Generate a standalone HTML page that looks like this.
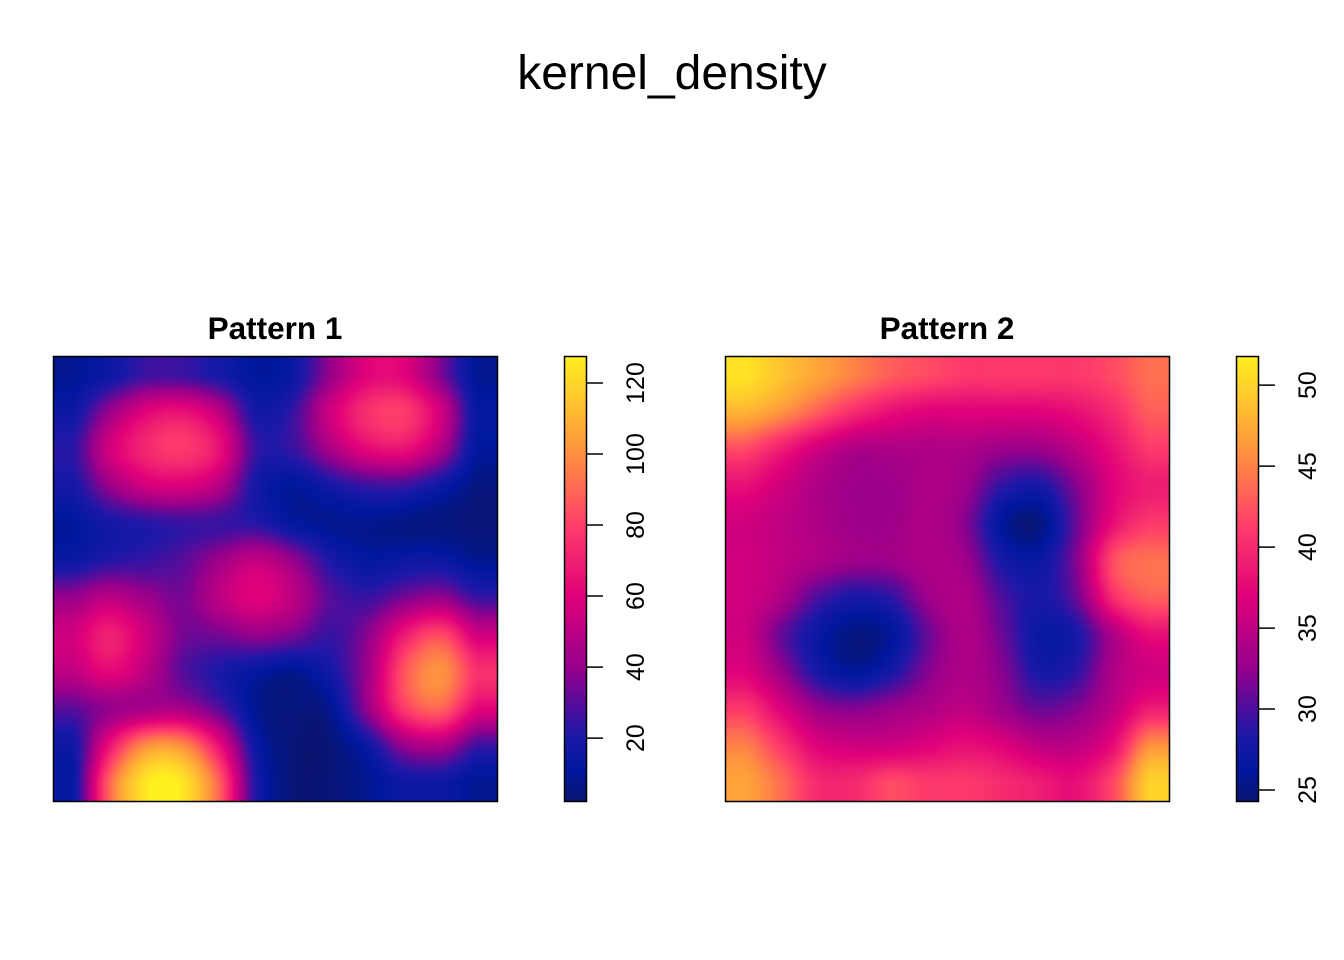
<!DOCTYPE html>
<html><head><meta charset="utf-8"><style>
body{margin:0;background:#fff;width:1344px;height:960px;overflow:hidden;position:relative;font-family:"Liberation Sans",sans-serif}
.abs{position:absolute}
canvas{position:absolute}
</style></head><body>
<div class="abs" style="left:0;width:1344px;top:46px;text-align:center;font-size:48px;">kernel_density</div>
<div class="abs" style="left:53px;width:444px;top:310px;text-align:center;font-size:31.5px;font-weight:bold">Pattern 1</div>
<div class="abs" style="left:725px;width:444px;top:310px;text-align:center;font-size:31.5px;font-weight:bold">Pattern 2</div>
<canvas id="c1" width="444" height="446" style="left:53px;top:356px"></canvas>
<canvas id="c2" width="444" height="446" style="left:725px;top:356px"></canvas>
<canvas id="b1" width="22" height="446" style="left:564px;top:356px"></canvas>
<canvas id="b2" width="22" height="446" style="left:1236px;top:356px"></canvas>
<svg id="ov" width="1344" height="960" style="position:absolute;left:0;top:0"></svg>
<script>
const grid1=[
[8,15,25,25,18,10,15,40,60,60,35,8],
[15,40,60,65,50,18,25,55,75,78,55,12],
[22,55,72,78,65,25,25,45,62,65,45,10],
[18,40,55,58,48,18,10,18,25,25,15,5],
[10,18,22,25,25,22,12,8,8,6,5,4],
[15,22,25,30,42,52,40,20,12,15,15,8],
[40,50,42,35,50,60,50,30,25,35,40,25],
[55,70,55,35,35,40,35,25,38,68,82,55],
[50,62,50,30,20,12,8,18,42,85,100,75],
[30,40,45,45,30,8,5,8,40,78,88,60],
[15,65,100,100,65,15,4,4,15,40,45,25],
[12,88,125,125,88,20,4,4,8,15,15,8]];
const grid2=[
[51,49,47,45,43,42,41,41,41,41,42,44],
[48,46,43,40,38,37,37,37,37,38,40,43],
[42,39,36,34,34,34,34,33,33,35,38,41],
[38,36,34,33,33,34,33,29,28,32,37,39],
[36,35,34,33,33,34,32,26,25,31,38,41],
[36,35,34,33,33,34,33,28,27,32,42,44],
[36,34,30,28,29,33,34,30,28,31,40,43],
[36,31,27,25,26,31,34,31,27,28,34,38],
[37,33,28,26,28,32,34,32,28,29,34,36],
[41,37,33,32,33,34,35,33,31,32,35,39],
[45,41,37,36,36,37,38,37,35,35,38,46],
[47,44,40,40,42,41,41,40,39,38,42,50]];
const range1=[2,127.6], range2=[24.26,51.8];
const ticks1=[20,40,60,80,100,120], ticks2=[25,30,35,40,45,50];
const stops=[[0,[10,20,110]],[0.07,[0,24,160]],[0.15,[30,24,168]],[0.3,[150,0,140]],[0.46,[224,0,122]],[0.62,[255,62,106]],[0.78,[255,145,64]],[1,[255,240,32]]];
function cmap(t){t=Math.max(0,Math.min(1,t));for(let i=1;i<stops.length;i++){if(t<=stops[i][0]){const a=stops[i-1],b=stops[i];const f=(t-a[0])/(b[0]-a[0]);return a[1].map((v,k)=>v+(b[1][k]-v)*f);}}return stops[stops.length-1][1];}
function cr(p0,p1,p2,p3,t){return 0.5*(2*p1+(-p0+p2)*t+(2*p0-5*p1+4*p2-p3)*t*t+(-p0+3*p1-3*p2+p3)*t*t*t);}
function sample(g,u,v){const n=g.length,m=g[0].length;let x=u*m-0.5,y=v*n-0.5;x=Math.max(0,Math.min(m-1,x));y=Math.max(0,Math.min(n-1,y));
const x0=Math.min(m-2,Math.floor(x)),y0=Math.min(n-2,Math.floor(y));const fx=x-x0,fy=y-y0;
const cx=i=>Math.max(0,Math.min(m-1,i)),cy=i=>Math.max(0,Math.min(n-1,i));
const rows=[];for(let j=-1;j<=2;j++){const r=g[cy(y0+j)];rows.push(cr(r[cx(x0-1)],r[x0],r[x0+1],r[cx(x0+2)],fx));}
return cr(rows[0],rows[1],rows[2],rows[3],fy);}
function draw(id,g,r){const c=document.getElementById(id),ctx=c.getContext('2d');const W=c.width,H=c.height;const im=ctx.createImageData(W,H);
for(let y=0;y<H;y++)for(let x=0;x<W;x++){const v=sample(g,(x+0.5)/W,(y+0.5)/H);const col=cmap((v-r[0])/(r[1]-r[0]));const o=(y*W+x)*4;im.data[o]=col[0];im.data[o+1]=col[1];im.data[o+2]=col[2];im.data[o+3]=255;}
ctx.putImageData(im,0,0);}
function bar(id){const c=document.getElementById(id),ctx=c.getContext('2d');for(let y=0;y<c.height;y++){const col=cmap(1-(y+0.5)/c.height);ctx.fillStyle=`rgb(${col.map(Math.round).join(',')})`;ctx.fillRect(0,y,c.width,1);}}
draw('c1',grid1,range1);draw('c2',grid2,range2);bar('b1');bar('b2');
const svg=document.getElementById('ov');const NS='http://www.w3.org/2000/svg';
function el(t,a){const e=document.createElementNS(NS,t);for(const k in a)e.setAttribute(k,a[k]);svg.appendChild(e);return e;}
function frame(x,name){const e=el('rect',{x:x+0.5,y:356.5,width:444,height:445,fill:'none',stroke:'#000','stroke-width':1.5});

}
frame(53,'panel-1-frame');frame(725,'panel-2-frame');
function axis(bx,ticks,r,pre){const e=el('rect',{x:bx+0.5,y:356.5,width:22,height:445,fill:'none',stroke:'#000','stroke-width':1.5});


const yS=v=>802-(v-r[0])/(r[1]-r[0])*446;
ticks.forEach(t=>{const y=yS(t);const l=el('line',{x1:bx+22,x2:bx+39,y1:y,y2:y,stroke:'#000','stroke-width':1.5});


const tx=el('text',{x:0,y:0,transform:`translate(${bx+80},${y}) rotate(-90)`,'text-anchor':'middle','font-size':25,'font-family':'Liberation Sans, sans-serif'});
tx.textContent=t;

});}
axis(564,ticks1,range1,'pattern-1');axis(1236,ticks2,range2,'pattern-2');
</script>
</body></html>
